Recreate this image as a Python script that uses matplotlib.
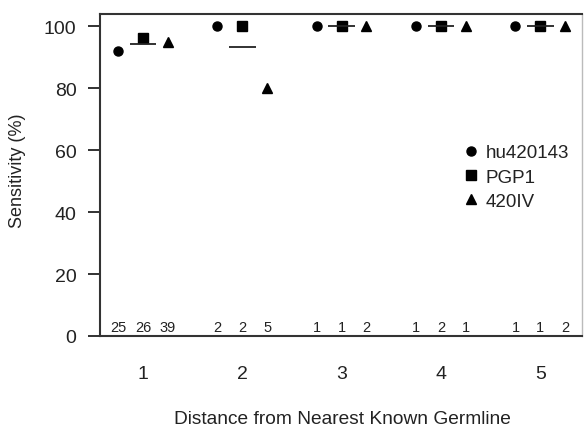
import matplotlib.pyplot as plt
import numpy as np

plt.rcParams['font.family'] = ['Liberation Sans', 'DejaVu Sans']

# distance from nearest known germline
distances = [1, 2, 3, 4, 5]
samples = ['hu420143', 'PGP1', '420IV']

# sensitivity (%) per sample
sens_hu420143 = [92.0, 100, 100, 100, 100]
sens_pgp1 = [96.2, 100, 100, 100, 100]
sens_420iv = [94.9, 80.0, 100, 100, 100]

# number of sites per sample
n_hu420143 = [25, 2, 1, 1, 1]
n_pgp1 = [26, 2, 1, 2, 1]
n_420iv = [39, 5, 2, 1, 2]

ink = '#222222'
fig = plt.figure(figsize=(5.84, 4.27), dpi=100)
ax = fig.add_axes([100 / 584, 1 - 337 / 427, 482 / 584, 322 / 427])

x = np.array(distances, dtype=float)
offsets = [-0.25, 0.0, 0.25]
markers = ['o', 's', '^']
sizes = [6.5, 6.5, 7.5]
series = [sens_hu420143, sens_pgp1, sens_420iv]
counts = [n_hu420143, n_pgp1, n_420iv]

for off, m, ms, vals, lab in zip(offsets, markers, sizes, series, samples):
    ax.plot(x + off, vals, linestyle='none', marker=m, markersize=ms,
            color='black', label=lab, clip_on=False)

# mean across samples
means = np.mean(np.array(series), axis=0)
ax.hlines(means, x - 0.135, x + 0.135, color=ink, linewidth=1.3)

for off, cnt in zip(offsets, counts):
    for xi, c in zip(x, cnt):
        ax.text(xi + off, 0.7, str(c), ha='center', va='bottom',
                fontsize=10.5, color=ink)

ax.set_xlim(0.567, 5.42)
ax.set_ylim(0, 103.9)
ax.set_xticks(distances)
ax.set_yticks([0, 20, 40, 60, 80, 100])
ax.tick_params(axis='x', length=0, pad=21, labelsize=14, colors=ink)
ax.tick_params(axis='y', length=9, width=1.3, pad=8, labelsize=14,
               colors=ink, direction='out')

fig.text(342 / 584, 1 - 420 / 427, 'Distance from Nearest Known Germline',
         ha='center', va='center', fontsize=13.8, color=ink)
fig.text(18 / 584, 1 - 171 / 427, 'Sensitivity (%)', rotation=90,
         ha='center', va='center', fontsize=13, color=ink)

for side in ['left', 'bottom', 'top']:
    ax.spines[side].set_linewidth(1.5)
    ax.spines[side].set_color('#333333')
ax.spines['right'].set_color('#bbbbbb')
ax.spines['right'].set_linewidth(1.0)

ax.legend(loc='upper left', bbox_to_anchor=(454 / 584, 1 - 136 / 427),
          bbox_transform=fig.transFigure, frameon=False, fontsize=13.5,
          handlelength=0.8, handletextpad=0.4, labelspacing=0.38,
          borderpad=0, labelcolor=ink)

fig.savefig('out.png', dpi=100)
